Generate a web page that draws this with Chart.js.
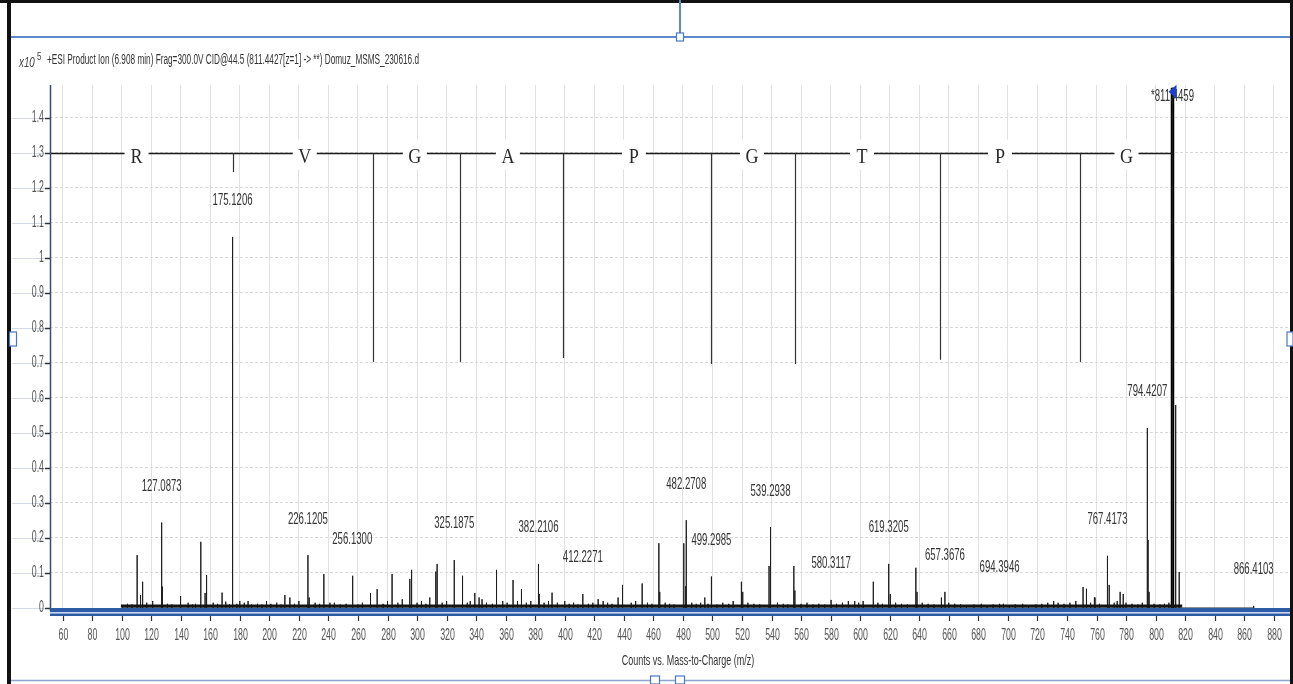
<!DOCTYPE html>
<html><head><meta charset="utf-8">
<script src="https://cdn.jsdelivr.net/npm/chart.js@4.4.1/dist/chart.umd.min.js"></script>
<style>html,body{margin:0;padding:0;background:#fff;overflow:hidden}canvas{display:block}</style>
</head><body>
<canvas id="c" width="1293" height="684"></canvas>
<script>
// ---------------- DATA ----------------
const xTickLabels = ['60','80','100','120','140','160','180','200','220','240','260','280','300','320','340','360','380','400','420','440','460','480','500','520','540','560','580','600','620','640','660','680','700','720','740','760','780','800','820','840','860','880'];
const yTickLabels = ['0','0.1','0.2','0.3','0.4','0.5','0.6','0.7','0.8','0.9','1','1.1','1.2','1.3','1.4'];

// main peaks (m/z, counts x10^5)
const peakMz = [110.5,112.8,114.2,127.0873,127.6,139.9,153.6,156.5,157.5,168.0,170.5,175.1206,180.0,185.6,198.1,210.5,213.9,226.1205,227.0,236.9,241.0,256.1300,256.6,268.5,273.0,283.1,295.1,296.3,308.6,312.7,313.6,325.1875,330.8,339.1,353.8,365.0,370.7,382.2106,382.7,391.4,400.0,412.2271,422.6,436.1,439.1,452.4,463.7,464.3,480.6,481.9,482.2708,494.8,499.2985,519.6,520.5,538.3,539.2938,555.1,555.8,580.3117,596.3,608.9,619.3205,620.4,637.7,638.5,657.3676,694.3946,750.9,753.2,758.6,767.4173,768.6,776.0,778.1,794.4207,794.9,795.6,811.4459,813.6,816.0,866.4103];
const peakHeight = [0.151,0.037,0.075,0.244,0.061,0.034,0.189,0.043,0.094,0.044,0.018,1.06,0.02,0.02,0.02,0.037,0.03,0.151,0.03,0.097,0.015,0.092,0.043,0.043,0.054,0.097,0.083,0.109,0.03,0.104,0.126,0.137,0.092,0.043,0.109,0.08,0.054,0.126,0.04,0.044,0.02,0.04,0.025,0.03,0.066,0.07,0.185,0.046,0.185,0.062,0.251,0.03,0.09,0.075,0.046,0.12,0.231,0.12,0.05,0.023,0.02,0.075,0.126,0.04,0.115,0.046,0.046,0.012,0.06,0.055,0.03,0.149,0.066,0.046,0.04,0.514,0.194,0.046,1.486,0.58,0.103,0.006];

// low-level noise sticks along the baseline
const noiseMz = [100.5,104,107,117,121,131,134,145,148,150,162,165,173,178,183,188,192,195,201,205,208,217,220,231,234,244,248,252,260,263,277,280,287,290,300,303,306,317,320,334,336,342,344,347,351,358,361,368,374,377,386,389,395,403,406,409,416,419,426,429,432,445,448,456,459,468,471,474,486,489,492,497,503,507,511,514,524,528,532,544,548,551,560,564,568,572,576,584,588,592,599,602,612,615,624,628,632,642,646,650,655,660,664,668,672,677,682,686,690,697,701,705,710,714,719,723,727,731,734,738,742,746,756,759,762,772,774,780,784,788,791,799,803,806,809];
const noiseHeight = [0.008,0.012,0.01,0.015,0.02,0.012,0.01,0.015,0.01,0.012,0.015,0.012,0.01,0.012,0.015,0.01,0.012,0.01,0.012,0.015,0.01,0.012,0.02,0.015,0.012,0.015,0.01,0.012,0.01,0.015,0.012,0.02,0.015,0.025,0.015,0.02,0.012,0.015,0.02,0.015,0.02,0.03,0.025,0.015,0.012,0.02,0.015,0.02,0.015,0.02,0.015,0.02,0.015,0.012,0.015,0.01,0.012,0.015,0.02,0.015,0.012,0.015,0.02,0.015,0.012,0.015,0.012,0.01,0.015,0.012,0.015,0.012,0.01,0.015,0.012,0.02,0.015,0.012,0.01,0.015,0.012,0.01,0.012,0.015,0.01,0.012,0.01,0.012,0.015,0.02,0.015,0.02,0.015,0.012,0.015,0.012,0.01,0.015,0.012,0.01,0.03,0.015,0.012,0.01,0.008,0.01,0.012,0.008,0.01,0.012,0.008,0.01,0.012,0.008,0.01,0.012,0.015,0.02,0.015,0.012,0.015,0.02,0.015,0.03,0.012,0.015,0.02,0.015,0.012,0.01,0.015,0.012,0.01,0.012,0.015];

// dense baseline span (m/z)
const baselineMz = [99.5, 818];
const baselineLevel = 0.006;

// base peak
const basePeakMz = 811.4459;
const basePeakHeight = 1.486;

// labelled peaks
const labelMz = [127.0873,175.1206,226.1205,256.1300,325.1875,382.2106,412.2271,482.2708,499.2985,539.2938,580.3117,619.3205,657.3676,694.3946,767.4173,794.4207,811.4459,866.4103];
const labelText = ['127.0873','175.1206','226.1205','256.1300','325.1875','382.2106','412.2271','482.2708','499.2985','539.2938','580.3117','619.3205','657.3676','694.3946','767.4173','794.4207','*811.4459','866.4103'];

// peptide sequence annotation
const seqLevel = 1.3;
const seqLetters = ['R','V','G','A','P','G','T','P','G'];
const seqLetterMz = [110.1,224.0,298.5,361.5,446.8,526.7,601.2,694.6,780.3];
const fragMz = [175.1,270.3,329.4,398.7,498.9,555.8,654.0,749.1];
const fragBottom = [1.245,0.703,0.703,0.714,0.697,0.697,0.709,0.703];

const titleText = '+ESI Product Ion (6.908 min) Frag=300.0V CID@44.5 (811.4427[z=1] -> **) Domuz_MSMS_230616.d';
const xAxisTitle = 'Counts vs. Mass-to-Charge (m/z)';

// ---------------- BUILD ----------------
const all = [];
peakMz.forEach((m,i)=>all.push([m,peakHeight[i]]));
noiseMz.forEach((m,i)=>all.push([m,noiseHeight[i]]));
all.sort((a,b)=>a[0]-b[0]);
const stickData = [];
all.forEach(([m,h])=>{stickData.push({x:m,y:0});stickData.push({x:m,y:h});stickData.push({x:m,y:0});});
const baselineData = baselineMz.map(m=>({x:m,y:baselineLevel}));
const baseStick = [{x:basePeakMz,y:0},{x:basePeakMz,y:basePeakHeight}];

const SANS = '"Liberation Sans", Arial, sans-serif';
function sText(ctx, txt, x, y, size, sx, align, color, style, family){
  ctx.save();
  ctx.font = (style?style+' ':'') + size + 'px ' + (family||SANS);
  ctx.fillStyle = color; ctx.textBaseline = 'middle'; ctx.textAlign = align;
  ctx.translate(x,y); ctx.scale(sx,1); ctx.fillText(txt,0,0); ctx.restore();
}
function line(ctx,x1,y1,x2,y2,color,w){ctx.save();ctx.strokeStyle=color;ctx.lineWidth=w;ctx.beginPath();ctx.moveTo(x1,y1);ctx.lineTo(x2,y2);ctx.stroke();ctx.restore();}
function handle(ctx,x,y,w,h){ctx.save();ctx.fillStyle='#fff';ctx.strokeStyle='#4a78c0';ctx.lineWidth=1.2;ctx.fillRect(x-w/2,y-h/2,w,h);ctx.strokeRect(x-w/2,y-h/2,w,h);ctx.restore();}

const decor = {
  id:'decor',
  beforeDraw(chart){
    const ctx = chart.ctx, ca = chart.chartArea, ys = chart.scales.y;
    ctx.save(); ctx.fillStyle='#fff'; ctx.fillRect(0,0,chart.width,chart.height); ctx.restore();
    // horizontal grid extension left of axis
    yTickLabels.forEach(t=>{const y=Math.round(ys.getPixelForValue(Number(t)))+0.5; line(ctx,12,y,ca.left,y,'#d3dae6',1);});
  },
  afterDatasetsDraw(chart){
    const ctx = chart.ctx, ca = chart.chartArea, xs = chart.scales.x, ys = chart.scales.y;
    const px = v=>xs.getPixelForValue(v), py = v=>ys.getPixelForValue(v);
    // sequence line
    const sy = Math.round(py(seqLevel))+0.5;
    line(ctx, ca.left, sy, px(basePeakMz), sy, '#1a1a1a', 1.6);
    fragMz.forEach((m,i)=>{const x=Math.round(px(m))+0.5; line(ctx,x,sy,x,py(fragBottom[i]),'#333',1.2);});
    seqLetters.forEach((L,i)=>{
      const x = px(seqLetterMz[i]);
      ctx.save(); ctx.fillStyle='#fff'; ctx.fillRect(x-12,sy-14,24,30); ctx.restore();
      sText(ctx,L,x,sy+4,22,0.82,'center','#2a2a2a','',' "Liberation Serif", "Times New Roman", serif');
    });
    // peak labels
    labelMz.forEach((m,i)=>{
      const idx = peakMz.indexOf(m);
      const h = peakHeight[idx];
      let y = py(h) - 36;
      if (y < ca.top + 12) y = ca.top + 12;
      sText(ctx,labelText[i],px(m),y,16,0.6,'center','#333');
    });
    // base peak marker
    const bx = px(basePeakMz), by = py(basePeakHeight);
    ctx.save(); ctx.fillStyle='#1f3fd0'; ctx.beginPath(); ctx.moveTo(bx+4,by-3); ctx.lineTo(bx+4,by+11); ctx.lineTo(bx-4,by+4); ctx.closePath(); ctx.fill(); ctx.restore();
    // y axis
    line(ctx, ca.left+0.5, ca.top, ca.left+0.5, ca.bottom+3, '#3a4a72', 1.5);
    yTickLabels.forEach(t=>{
      const y = py(Number(t));
      line(ctx, ca.left-5, Math.round(y)+0.5, ca.left, Math.round(y)+0.5, '#333', 1.5);
      sText(ctx,t,ca.left-6,y,16,0.55,'right','#555');
    });
    // x axis (blue double band)
    ctx.save();
    ctx.fillStyle='#2d5ca6'; ctx.fillRect(ca.left, ca.bottom, chart.width-ca.left, 4);
    ctx.fillStyle='#c8d8f0'; ctx.fillRect(ca.left, ca.bottom+4, chart.width-ca.left, 1.5);
    ctx.fillStyle='#2d5ca6'; ctx.fillRect(ca.left, ca.bottom+5.5, chart.width-ca.left, 2.5);
    ctx.restore();
    xTickLabels.forEach(t=>{
      const x = Math.round(px(Number(t)))+0.5;
      line(ctx, x, ca.bottom+8, x, ca.bottom+13, '#333', 1.2);
      sText(ctx,t,x,ca.bottom+28,16,0.55,'center','#555');
    });
    // axis title
    sText(ctx,xAxisTitle,688,661,15,0.6,'center','#333');
    // chart title
    ctx.save(); ctx.font='14px '+SANS; const w = ctx.measureText(titleText).width; ctx.restore();
    sText(ctx,titleText,47,60,14,372/w,'left','#333');
    sText(ctx,'x10',19,63,14,0.7,'left','#444','italic');
    sText(ctx,'5',37,57,10,0.8,'left','#444');
    // frame & selection decorations
    ctx.save();
    ctx.fillStyle='#111'; ctx.fillRect(7,0,4,chart.height); ctx.fillRect(0,0,chart.width,3); ctx.fillRect(chart.width-3,0,3,chart.height);
    ctx.restore();
    line(ctx, 11, 37, chart.width-3, 37, '#5f88c8', 2);
    line(ctx, 680, 0, 680, 37, '#5f88c8', 2);
    line(ctx, 11, 680.5, chart.width-3, 680.5, '#8aa6d0', 1.5);
    handle(ctx,680,37,7,8); handle(ctx,13,339,7,14); handle(ctx,chart.width-3,339,6,14); handle(ctx,655,680,9,8); handle(ctx,680,680,9,8);
  }
};

new Chart(document.getElementById('c').getContext('2d'), {
  type:'line',
  data:{datasets:[
    {data:baselineData, borderColor:'#141414', borderWidth:3, pointRadius:0, tension:0},
    {data:stickData, borderColor:'#1e1e1e', borderWidth:1, pointRadius:0, tension:0},
    {data:baseStick, borderColor:'#000', borderWidth:3.5, pointRadius:0, tension:0}
  ]},
  options:{
    responsive:false, animation:false, devicePixelRatio:1,
    layout:{padding:{left:50,right:3,top:85,bottom:76}},
    plugins:{legend:{display:false}, tooltip:{enabled:false}},
    scales:{
      x:{type:'linear', min:51.5, max:891, afterFit(s){s.height=0;},
         ticks:{display:false, stepSize:20, includeBounds:false},
         grid:{color:'#e1e1e1', drawTicks:false}, border:{display:false}},
      y:{type:'linear', min:0, max:1.494, afterFit(s){s.width=0;},
         ticks:{display:false, stepSize:0.1, includeBounds:false},
         grid:{color:'#d9d9d9', drawTicks:false}, border:{display:false, dash:[3,2]}}
    }
  },
  plugins:[decor]
});
</script>
</body></html>
